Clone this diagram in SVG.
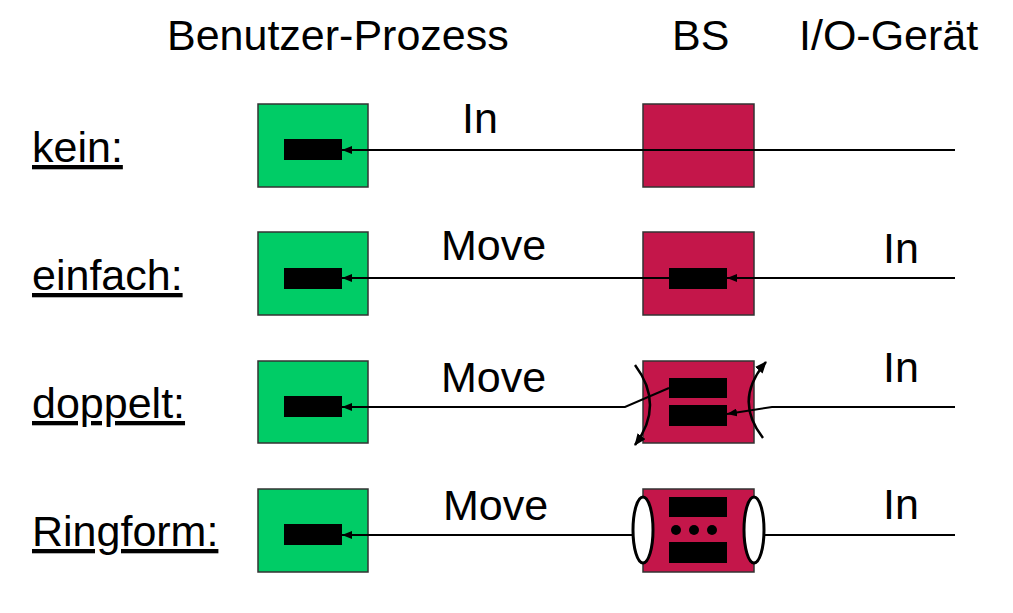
<svg xmlns="http://www.w3.org/2000/svg" width="1013" height="613" viewBox="0 0 1013 613">
<style>
text{font-family:"Liberation Sans",Arial,sans-serif;font-size:43px;fill:#000}
.u{text-decoration:underline}
.g{fill:#00CC66;stroke:#333;stroke-width:1.5}
.r{fill:#C4164A;stroke:#333;stroke-width:1.5}
.b{fill:#000}
.ln{fill:none;stroke:#000;stroke-width:2}
.arc{fill:none;stroke:#000;stroke-width:2.5}
.ring{fill:#fff;stroke:#000;stroke-width:3}
</style>
<defs>
<marker id="ah" markerUnits="userSpaceOnUse" markerWidth="10" markerHeight="8" refX="10" refY="4" orient="auto">
<path d="M0,0 L10,4 L0,8 z" fill="#000"/>
</marker>
<marker id="ah2" markerUnits="userSpaceOnUse" markerWidth="12" markerHeight="10" refX="11" refY="5" orient="auto">
<path d="M0,0 L12,5 L0,10 z" fill="#000"/>
</marker>
</defs>
<g id="headers">
<text x="167" y="50">Benutzer-Prozess</text>
<text x="672" y="50">BS</text>
<text x="799" y="50">I/O-Gerät</text>
</g>
<g id="row-labels">
<text class="u" x="32" y="162">kein:</text>
<text class="u" x="32" y="290">einfach:</text>
<text class="u" x="32" y="418">doppelt:</text>
<text class="u" x="32" y="546">Ringform:</text>
</g>
<g id="row-kein">
<g id="kein-user"><rect class="g" x="258" y="104" width="110" height="83"/><rect class="b" x="284" y="139" width="58" height="21"/></g>
<g id="kein-bs"><rect class="r" x="643" y="104" width="111" height="83"/></g>
</g>
<g id="row-einfach">
<g id="einfach-user"><rect class="g" x="258" y="232" width="110" height="83"/><rect class="b" x="284" y="268" width="58" height="21"/></g>
<g id="einfach-bs"><rect class="r" x="643" y="232" width="111" height="83"/><rect class="b" x="669" y="268" width="58" height="21"/></g>
</g>
<g id="row-doppelt">
<g id="doppelt-user"><rect class="g" x="258" y="361" width="110" height="82"/><rect class="b" x="284" y="396" width="58" height="21"/></g>
<g id="doppelt-bs"><rect class="r" x="643" y="361" width="111" height="82"/><rect class="b" x="669" y="378" width="58" height="20"/><rect class="b" x="669" y="405" width="58" height="21"/></g>
</g>
<g id="row-ringform">
<g id="ring-user"><rect class="g" x="258" y="489" width="110" height="83"/><rect class="b" x="284" y="524" width="58" height="21"/></g>
<g id="ring-bs"><rect class="r" x="643" y="489" width="111" height="83"/><rect class="b" x="669" y="497" width="58" height="20"/><rect class="b" x="669" y="542" width="58" height="21"/><circle class="b" cx="676" cy="530" r="5"/><circle class="b" cx="694" cy="530" r="5"/><circle class="b" cx="712" cy="530" r="5"/></g>
</g>
<g id="connectors">
<line class="ln" x1="955" y1="150" x2="342" y2="150" marker-end="url(#ah)"/>
<line class="ln" x1="955" y1="278" x2="727" y2="278" marker-end="url(#ah)"/>
<line class="ln" x1="669" y1="278" x2="342" y2="278" marker-end="url(#ah)"/>
<polyline class="ln" points="669,388 625,407 342,407" marker-end="url(#ah)"/>
<polyline class="ln" points="955,407 772,407 727,414" marker-end="url(#ah)"/>
<path class="arc" d="M635,365 Q665,405 635,445" marker-end="url(#ah2)"/>
<path class="arc" d="M763,438 Q733,400 766,362" marker-end="url(#ah2)"/>
<line class="ln" x1="955" y1="535" x2="754" y2="535"/>
<line class="ln" x1="643" y1="535" x2="342" y2="535" marker-end="url(#ah)"/>
<ellipse class="ring" cx="643" cy="530" rx="10" ry="33"/>
<ellipse class="ring" cx="754" cy="530" rx="10" ry="33"/>
</g>
<g id="connector-labels">
<text x="462" y="133">In</text>
<text x="441" y="260">Move</text>
<text x="883" y="263">In</text>
<text x="441" y="392">Move</text>
<text x="883" y="382">In</text>
<text x="443" y="520">Move</text>
<text x="883" y="519">In</text>
</g>
</svg>
